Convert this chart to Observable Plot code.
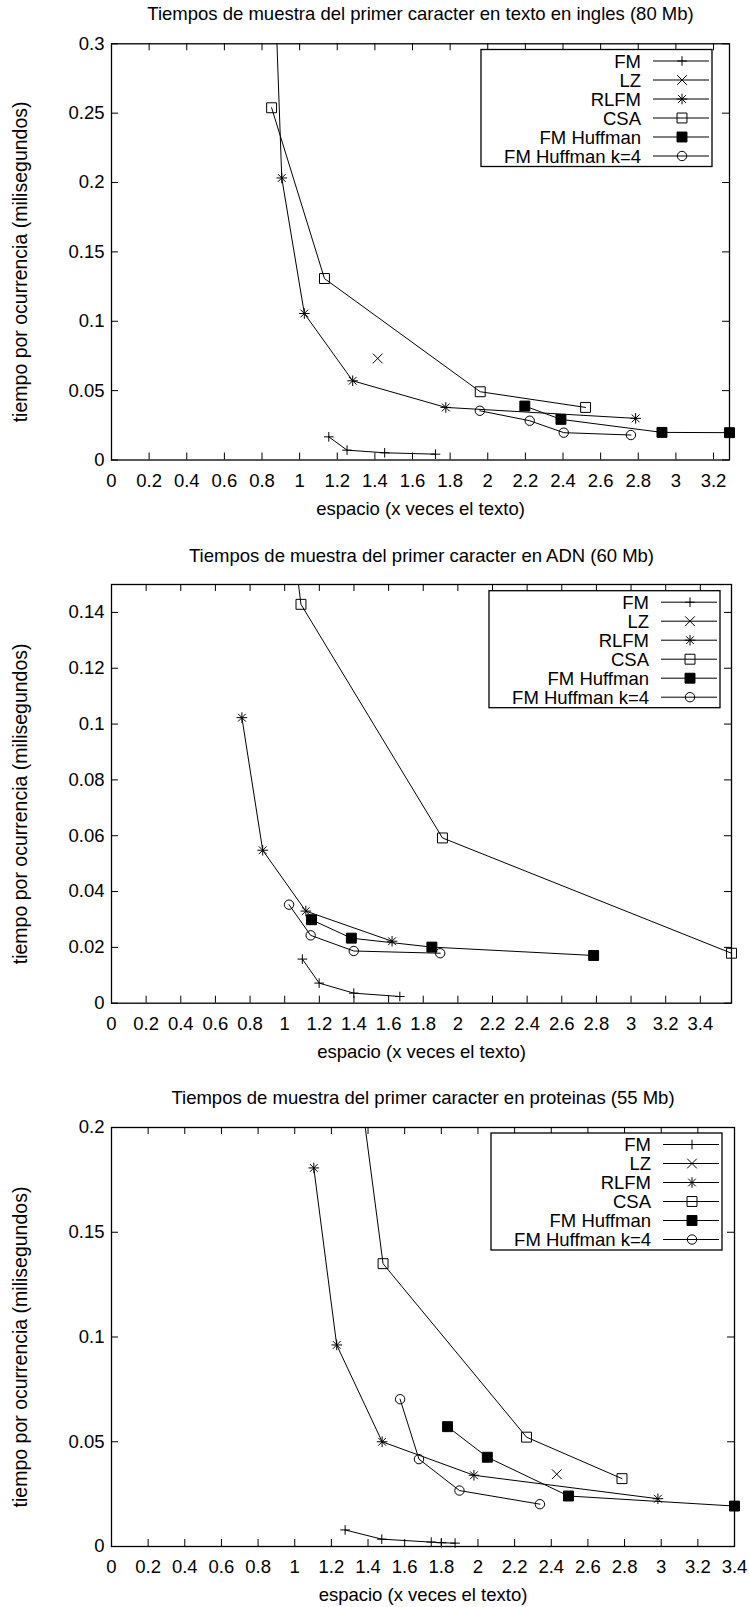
<!DOCTYPE html>
<html><head><meta charset="utf-8">
<script src="https://cdn.jsdelivr.net/npm/d3@7"></script>
<script src="https://cdn.jsdelivr.net/npm/@observablehq/plot@0.6"></script>
<style>
body{margin:0;background:#fff;}
#root{width:750px;}
#root svg{display:block;}
</style></head><body><div id="root"></div>
<script>
// ---------- data ----------
const seriesNames = ["FM", "LZ", "RLFM", "CSA", "FM Huffman", "FM Huffman k=4"];
const panelTitles = [
  "Tiempos de muestra del primer caracter en texto en ingles (80 Mb)",
  "Tiempos de muestra del primer caracter en ADN (60 Mb)",
  "Tiempos de muestra del primer caracter en proteinas (55 Mb)"
];
const xLabel = "espacio (x veces el texto)";
const yLabel = "tiempo por ocurrencia (milisegundos)";

// panel 1: texto en ingles  [espacio, tiempo]
const fm1   = [[1.155,0.0167],[1.252,0.0071],[1.452,0.0052],[1.722,0.0042]];
const lz1   = [[1.415,0.0732]];
const rlfm1 = [[0.84,0.45],[0.905,0.2033],[1.025,0.1056],[1.282,0.0571],[1.777,0.0379],[2.786,0.0300]];
const csa1  = [[0.851,0.2539],[1.132,0.1308],[1.96,0.0492],[2.52,0.0379]];
const fmh1  = [[2.197,0.0389],[2.389,0.0293],[2.926,0.0199],[3.285,0.0197]];
const k4_1  = [[1.958,0.0355],[2.223,0.0283],[2.404,0.0197],[2.761,0.0180]];

// panel 2: ADN
const fm2   = [[1.102,0.0158],[1.199,0.0072],[1.399,0.0036],[1.665,0.0024]];
const lz2   = [];
const rlfm2 = [[0.753,0.1023],[0.873,0.0548],[1.122,0.0330],[1.62,0.0222]];
const csa2  = [[0.98,0.20],[1.094,0.1429],[1.911,0.0592],[3.58,0.0179]];
const fmh2  = [[1.155,0.0299],[1.385,0.0233],[1.85,0.0201],[2.784,0.0171]];
const k4_2  = [[1.025,0.0353],[1.15,0.0243],[1.399,0.0187],[1.898,0.0179]];

// panel 3: proteinas
const fm3   = [[1.275,0.0079],[1.475,0.0035],[1.745,0.0021],[1.80,0.0018],[1.875,0.0016]];
const lz3   = [[2.43,0.0345]];
const rlfm3 = [[1.104,0.1807],[1.229,0.0962],[1.477,0.0500],[1.978,0.0340],[2.982,0.0228]];
const csa3  = [[1.31,0.25],[1.482,0.135],[2.265,0.0522],[2.786,0.0324]];
const fmh3  = [[1.834,0.0572],[2.051,0.0426],[2.494,0.0241],[3.4,0.0193]];
const k4_3  = [[1.575,0.0703],[1.678,0.0417],[1.899,0.0267],[2.338,0.0202]];

// axes
const xMax = [3.285, 3.58, 3.4];
const yMax = [0.3, 0.15, 0.2];
const xTicks1 = [0,0.2,0.4,0.6,0.8,1,1.2,1.4,1.6,1.8,2,2.2,2.4,2.6,2.8,3,3.2];
const xTicks2 = [0,0.2,0.4,0.6,0.8,1,1.2,1.4,1.6,1.8,2,2.2,2.4,2.6,2.8,3,3.2,3.4];
const xTicks3 = [0,0.2,0.4,0.6,0.8,1,1.2,1.4,1.6,1.8,2,2.2,2.4,2.6,2.8,3,3.2,3.4];
const yTicks1 = [0,0.05,0.1,0.15,0.2,0.25,0.3];
const yTicks2 = [0,0.02,0.04,0.06,0.08,0.1,0.12,0.14];
const yTicks3 = [0,0.05,0.1,0.15,0.2];

const panelData = [
  [fm1, lz1, rlfm1, csa1, fmh1, k4_1],
  [fm2, lz2, rlfm2, csa2, fmh2, k4_2],
  [fm3, lz3, rlfm3, csa3, fmh3, k4_3]
];
const panelXTicks = [xTicks1, xTicks2, xTicks3];
const panelYTicks = [yTicks1, yTicks2, yTicks3];

// ---------- styling / layout ----------
const FONT = "'Liberation Sans', Arial, Helvetica, sans-serif";
const FS = 18.5;
const layout = [
  {h: 536, mt: 43.3, mb: 76.5, mr: 21, titleY: 14, legTop: 49.5, legRight: 712},
  {h: 536, mt: 48,   mb: 69.3, mr: 19, titleY: 20, legTop: 54.7, legRight: 720},
  {h: 535, mt: 55,   mb: 61,   mr: 16, titleY: 26, legTop: 61, legRight: 722}
];
const ML = 111;
// symbol specs per series (gnuplot point types)
const symbolSpec = [
  [{symbol: "plus", r: 3.2, fill: "none"}],
  [{symbol: "times", r: 4.5, fill: "none"}],
  [{symbol: "plus", r: 3.5, fill: "none"}, {symbol: "times", r: 3.6, fill: "none"}],
  [{symbol: "square", r: 5.6, fill: "none"}],
  [{symbol: "square", r: 5.6, fill: "black"}],
  [{symbol: "circle", r: 4.7, fill: "none"}]
];
const d3Sym = {plus: d3.symbolPlus, times: d3.symbolTimes, square: d3.symbolSquare, circle: d3.symbolCircle};

function makePanel(p) {
  const L = layout[p];
  const xt = panelXTicks[p], yt = panelYTicks[p];
  const xm = xMax[p], ym = yMax[p];
  const marks = [];
  const T = 7;
  // inward ticks on all four sides
  marks.push(Plot.ruleX(xt, {x: v => v, y1: 0, y2: 0, insetTop: -T, stroke: "black", strokeWidth: 1}));
  marks.push(Plot.ruleX(xt, {x: v => v, y1: ym, y2: ym, insetBottom: -T, stroke: "black", strokeWidth: 1}));
  marks.push(Plot.ruleY(yt, {y: v => v, x1: 0, x2: 0, insetRight: -T, stroke: "black", strokeWidth: 1}));
  marks.push(Plot.ruleY(yt, {y: v => v, x1: xm, x2: xm, insetLeft: -T, stroke: "black", strokeWidth: 1}));
  // series
  panelData[p].forEach((data, si) => {
    if (data.length > 1) marks.push(Plot.line(data, {x: d => d[0], y: d => d[1], stroke: "black", strokeWidth: 1, clip: true}));
    const vis = data.filter(d => d[0] >= 0 && d[0] <= xm + 1e-9 && d[1] <= ym + 1e-9);
    for (const s of symbolSpec[si]) {
      marks.push(Plot.dot(vis, {x: d => d[0], y: d => d[1], symbol: s.symbol, r: s.r, fill: s.fill, stroke: "black", strokeWidth: 1}));
    }
  });
  // axes labels
  marks.push(Plot.axisX(xt, {tickSize: 0, tickPadding: 13.5, tickFormat: v => String(v), fontSize: FS, label: null}));
  marks.push(Plot.axisY(yt, {tickSize: 0, tickPadding: 7, tickFormat: v => String(v), fontSize: FS, label: null}));
  marks.push(Plot.frame({stroke: "black", strokeWidth: 1.3}));
  // title and axis titles
  marks.push(Plot.text([panelTitles[p]], {text: d => d, frameAnchor: "top", lineAnchor: "middle", dy: L.titleY - L.mt, fontSize: FS}));
  marks.push(Plot.text([xLabel], {text: d => d, frameAnchor: "bottom", lineAnchor: "middle", dy: 49, fontSize: FS}));
  marks.push(Plot.text([yLabel], {text: d => d, frameAnchor: "left", textAnchor: "middle", lineAnchor: "middle", rotate: -90, dx: 20 - ML, dy: 10, fontSize: 19.5}));

  const svg = Plot.plot({
    width: 750, height: L.h,
    marginLeft: ML, marginRight: L.mr, marginTop: L.mt, marginBottom: L.mb,
    style: {fontFamily: FONT, fontSize: FS + "px", background: "white", color: "black", overflow: "visible"},
    x: {domain: [0, xm], label: null},
    y: {domain: [0, ym], label: null},
    marks
  });

  // legend (gnuplot key, top right inside)
  const g = d3.select(svg).append("g").attr("font-family", FONT).attr("font-size", FS);
  const boxR = L.legRight, boxW = 231, boxH = 117, top = L.legTop;
  g.append("rect").attr("x", boxR - boxW).attr("y", top).attr("width", boxW).attr("height", boxH)
    .attr("fill", "white").attr("stroke", "black").attr("stroke-width", 1.3);
  seriesNames.forEach((name, i) => {
    const cy = top + 11.5 + i * 19;
    g.append("text").attr("x", boxR - 71).attr("y", cy).attr("dy", "0.36em")
      .attr("text-anchor", "end").attr("fill", "black").text(name);
    g.append("line").attr("x1", boxR - 59).attr("x2", boxR - 3).attr("y1", cy).attr("y2", cy)
      .attr("stroke", "black").attr("stroke-width", 1);
    for (const s of symbolSpec[i]) {
      g.append("path").attr("transform", `translate(${boxR - 30},${cy})`)
        .attr("d", d3.symbol(d3Sym[s.symbol], Math.PI * s.r * s.r)())
        .attr("fill", s.fill).attr("stroke", "black").attr("stroke-width", 1);
    }
  });
  return svg;
}

const root = document.getElementById("root");
for (let p = 0; p < 3; p++) root.appendChild(makePanel(p));
</script>
</body></html>
